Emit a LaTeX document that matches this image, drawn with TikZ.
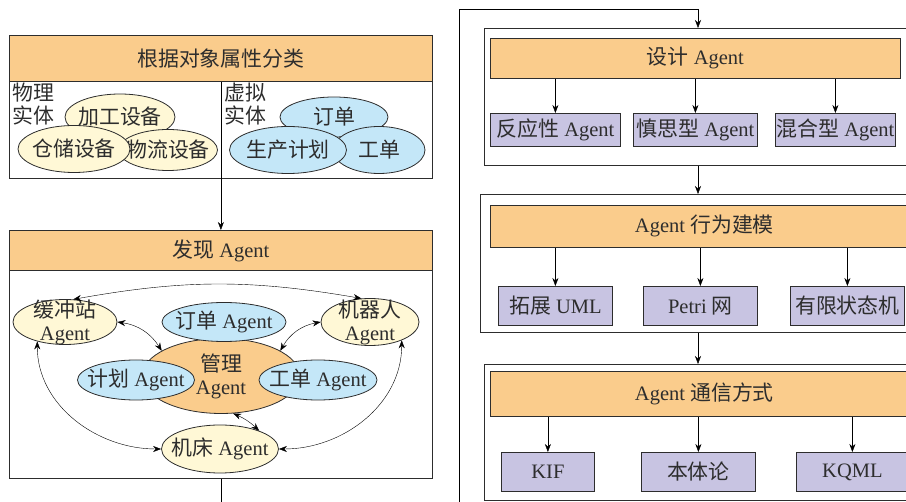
\documentclass[tikz,border=0pt]{standalone}
\usepackage{fontspec}
\setmainfont{Liberation Serif}
\newfontfamily\cjk[Scale=1.02]{Noto Sans CJK SC}
\usetikzlibrary{shapes.geometric, arrows.meta}

\definecolor{headfill}{RGB}{250,204,140}
\definecolor{yelfill}{RGB}{255,248,214}
\definecolor{bluefill}{RGB}{196,231,248}
\definecolor{purfill}{RGB}{200,196,226}
\definecolor{linecol}{RGB}{45,45,45}
\definecolor{textcol}{RGB}{45,45,45}

\begin{document}
\begin{tikzpicture}[x=1pt, y=-1pt,
    box/.style={draw=linecol, line width=0.8pt, inner sep=0pt, anchor=north west, text=textcol, font=\fontsize{20.5}{23}\selectfont},
    head/.style={box, fill=headfill},
    leaf/.style={box, fill=purfill},
    ell/.style={ellipse, draw=linecol, line width=0.8pt, inner sep=0pt},
    txt/.style={text=textcol, font=\fontsize{20.5}{23}\selectfont, align=center, inner sep=0pt},
    >={Stealth[length=8pt, width=6pt]}]
    \useasboundingbox (0,0) rectangle (906,502);
    \clip (0,0) rectangle (906,502);

    % object classes
    \node[box, minimum width=423pt, minimum height=97pt] (body-a) at (9,81) {};
    \node[head, minimum width=423pt, minimum height=46pt] (head-a) at (9,35) {{\cjk 根据对象属性分类}};
    \node[txt, anchor=north west, align=left] (phys) at (12,83) {{\cjk 物理}\\{\cjk 实体}};
    \node[txt, anchor=north west, align=left] (virt) at (224,83) {{\cjk 虚拟}\\{\cjk 实体}};

    \node[ell, fill=yelfill, minimum width=110pt, minimum height=46pt, label={[txt]center:{\cjk 加工设备}}] (e-jg) at (120,117) {};
    \node[ell, fill=yelfill, minimum width=99pt, minimum height=41pt, label={[txt]center:{\cjk 物流设备}}] (e-wl) at (168,150) {};
    \node[ell, fill=yelfill, minimum width=112pt, minimum height=47pt, label={[txt]center:{\cjk 仓储设备}}] (e-cc) at (74,149) {};
    \node[ell, fill=bluefill, minimum width=108pt, minimum height=40pt, label={[txt]center:{\cjk 订单}}] (e-dd) at (334,117) {};
    \node[ell, fill=bluefill, minimum width=92pt, minimum height=47pt, label={[txt]center:{\cjk 工单}}] (e-gd) at (379,150) {};
    \node[ell, fill=bluefill, minimum width=117pt, minimum height=47pt, label={[txt]center:{\cjk 生产计划}}] (e-sc) at (288,150) {};

    % discover agents
    \node[box, minimum width=423pt, minimum height=208pt] (body-b) at (9,270) {};
    \node[head, minimum width=423pt, minimum height=40pt] (head-b) at (9,230) {{\cjk 发现} Agent};

    \draw[->] (head-a.south) -- (head-b.north);

    \node[ell, fill=headfill, minimum width=158pt, minimum height=75pt, label={[txt]center:{\cjk 管理}\\Agent}] (mgr) at (221,376) {};
    \node[ell, fill=bluefill, minimum width=124pt, minimum height=39pt, label={[txt]center:{\cjk 订单} Agent}] (order) at (224,322) {};
    \node[ell, fill=bluefill, minimum width=117pt, minimum height=40pt, label={[txt]center:{\cjk 计划} Agent}] (plan) at (136,380) {};
    \node[ell, fill=bluefill, minimum width=118pt, minimum height=40pt, label={[txt]center:{\cjk 工单} Agent}] (work) at (318,380) {};
    \node[ell, fill=yelfill, minimum width=104pt, minimum height=45pt, label={[txt]center:{\cjk 缓冲站}\\Agent}] (buf) at (65,322) {};
    \node[ell, fill=yelfill, minimum width=98pt, minimum height=47pt, label={[txt]center:{\cjk 机器人}\\Agent}] (robot) at (370,322) {};
    \node[ell, fill=yelfill, minimum width=117pt, minimum height=48pt, label={[txt]center:{\cjk 机床} Agent}] (lathe) at (220,449) {};

    \draw[<->] (buf.70) to[bend left=10] (robot.110);
    \draw[<->] (buf.east) to[bend left=25] (mgr.157);
    \draw[<->] (robot.west) to[bend right=25] (mgr.23);
    \draw[<->] (buf.215) to[out=-90, in=180] (lathe.west);
    \draw[<->] (robot.-30) to[out=-90, in=0] (lathe.east);
    \draw[<->] (mgr.-72) to[bend left=10] (lathe.25);

    % design agent
    \node[box, minimum width=460pt, minimum height=137pt] (frame-1) at (484,28) {};
    \node[head, minimum width=410pt, minimum height=40pt] (head-1) at (490,38) {{\cjk 设计} Agent};
    \node[leaf, minimum width=130pt, minimum height=33pt] (leaf-11) at (490,113) {{\cjk 反应性} Agent};
    \node[leaf, minimum width=124pt, minimum height=33pt] (leaf-12) at (633,113) {{\cjk 慎思型} Agent};
    \node[leaf, minimum width=120pt, minimum height=33pt] (leaf-13) at (775,113) {{\cjk 混合型} Agent};

    \draw[->] (leaf-11.north |- head-1.south) -- (leaf-11.north);
    \draw[->] (leaf-12.north |- head-1.south) -- (leaf-12.north);
    \draw[->] (leaf-13.north |- head-1.south) -- (leaf-13.north);

    % behaviour modelling
    \node[box, minimum width=460pt, minimum height=138pt] (frame-2) at (480,194) {};
    \node[head, minimum width=428pt, minimum height=42pt] (head-2) at (490,205) {Agent {\cjk 行为建模}};
    \node[leaf, minimum width=114pt, minimum height=39pt] (leaf-21) at (498,286) {{\cjk 拓展} UML};
    \node[leaf, minimum width=114pt, minimum height=39pt] (leaf-22) at (643,286) {Petri {\cjk 网}};
    \node[leaf, minimum width=114pt, minimum height=39pt] (leaf-23) at (790,286) {{\cjk 有限状态机}};

    \draw[->] (leaf-21.north |- head-2.south) -- (leaf-21.north);
    \draw[->] (leaf-22.north |- head-2.south) -- (leaf-22.north);
    \draw[->] (leaf-23.north |- head-2.south) -- (leaf-23.north);

    % communication
    \node[box, minimum width=460pt, minimum height=136pt] (frame-3) at (484,364) {};
    \node[head, minimum width=428pt, minimum height=45pt] (head-3) at (490,371) {Agent {\cjk 通信方式}};
    \node[leaf, minimum width=93pt, minimum height=39pt] (leaf-31) at (501,452) {KIF};
    \node[leaf, minimum width=114pt, minimum height=39pt] (leaf-32) at (641,452) {{\cjk 本体论}};
    \node[leaf, minimum width=112pt, minimum height=39pt] (leaf-33) at (796,452) {KQML};

    \draw[->] (leaf-31.north |- head-3.south) -- (leaf-31.north);
    \draw[->] (leaf-32.north |- head-3.south) -- (leaf-32.north);
    \draw[->] (leaf-33.north |- head-3.south) -- (leaf-33.north);

    % main flow
    \coordinate (spine) at (698,0);
    \coordinate (loop) at (459,9);
    \draw[->] (body-b.south) -- ++(0,40) -| (loop) -| (frame-1.north -| spine);
    \draw[->] (frame-1.south -| spine) -- (frame-2.north -| spine);
    \draw[->] (frame-2.south -| spine) -- (frame-3.north -| spine);
\end{tikzpicture}
\end{document}
